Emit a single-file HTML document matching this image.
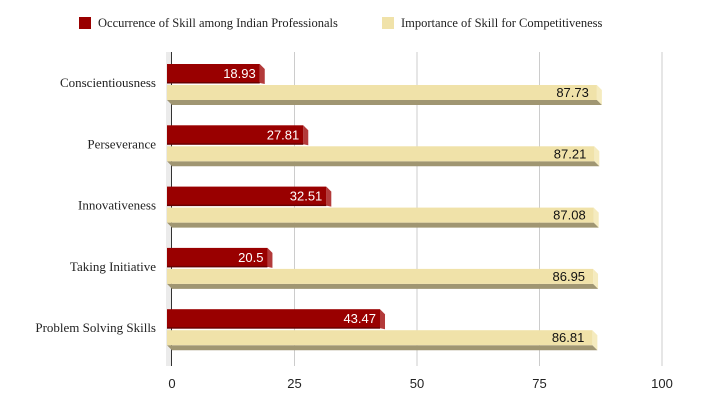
<!DOCTYPE html>
<html><head><meta charset="utf-8"><style>
body{margin:0;background:#fff;}
svg{display:block;}
.cat{font-family:"Liberation Serif",serif;font-size:13px;fill:#222;}
.leg{font-family:"Liberation Serif",serif;font-size:12.5px;fill:#222;}
.tick{font-family:"Liberation Sans",sans-serif;font-size:13px;fill:#222;}
.val{font-family:"Liberation Sans",sans-serif;font-size:13px;}
</style></head><body>
<svg id="chart" width="707" height="414">
<rect x="0" y="0" width="707" height="414" fill="#fff"/>
<g id="legend">
<rect x="79" y="17" width="12" height="12" fill="#990000"/>
<text x="98" y="27" class="leg">Occurrence of Skill among Indian Professionals</text>
<rect x="382" y="17" width="12" height="12" fill="#f0e2a9"/>
<text x="401" y="27" class="leg">Importance of Skill for Competitiveness</text>
</g>
<g id="grid"></g><g id="bars"></g><g id="labels"></g>
</svg>
<script>
const categories=["Conscientiousness","Perseverance","Innovativeness","Taking Initiative","Problem Solving Skills"];
const occurrence=[18.93,27.81,32.51,20.5,43.47];
const importance=[87.73,87.21,87.08,86.95,86.81];
const ticks=[0,25,50,75,100];
const NS="http://www.w3.org/2000/svg";
const x0=172,x1=662,yTop=52,yBot=366;
const xs=v=>x0+(x1-x0)*v/100;
function mk(tag,attrs,parent){const e=document.createElementNS(NS,tag);for(const k in attrs)e.setAttribute(k,attrs[k]);parent.appendChild(e);return e;}
const grid=document.getElementById('grid'),bars=document.getElementById('bars'),labels=document.getElementById('labels');
const w=mk('rect',{x:166,y:yTop,width:5,height:yBot-yTop,fill:'#ebebeb'},grid);


ticks.forEach(t=>{
 const X=xs(t);
 if(t>0){const l=mk('line',{x1:X,y1:yTop,x2:X,y2:yBot,stroke:'#cccccc','stroke-width':1},grid);
 
 }
 const tx=mk('text',{x:X,y:388,'text-anchor':'middle',class:'tick'},labels);tx.textContent=t;
 
 
});
const ax=mk('line',{x1:171.5,y1:yTop,x2:171.5,y2:yBot,stroke:'#333','stroke-width':1},grid);


categories.forEach((c,i)=>{
 const cy=83+i*61.3;
 const ct=mk('text',{x:156,y:cy+4,'text-anchor':'end',class:'cat'},labels);ct.textContent=c;
 
 
 let e=xs(occurrence[i])-5;
 const g1=mk('g',{},bars);
 
 
 mk('polygon',{points:`${e},${cy-19} ${e+5},${cy-14} ${e+5},${cy+1} ${e},${cy}`,fill:'#b33a3a'},g1);
 mk('rect',{x:167,y:cy-19,width:e-167,height:19,fill:'#990000'},g1);
 mk('rect',{x:167,y:cy-1,width:e-167,height:1.5,fill:'#6a0000'},g1);
 const t1=mk('text',{x:e-4,y:cy-5,'text-anchor':'end',class:'val',fill:'#fff'},labels);t1.textContent=occurrence[i];
 
 
 e=xs(importance[i])-5;
 const g2=mk('g',{},bars);
 
 
 mk('polygon',{points:`${e},${cy+2} ${e+5},${cy+7} ${e+5},${cy+22} ${e},${cy+17}`,fill:'#f5ebbf'},g2);
 mk('polygon',{points:`167,${cy+17} ${e},${cy+17} ${e+5},${cy+22} 172,${cy+22}`,fill:'#a09672'},g2);
 mk('rect',{x:167,y:cy+2,width:e-167,height:15,fill:'#f0e2a9'},g2);
 const t2=mk('text',{x:e-8,y:cy+14,'text-anchor':'end',class:'val',fill:'#111'},labels);t2.textContent=importance[i];
 
 
});
</script>
</body></html>
